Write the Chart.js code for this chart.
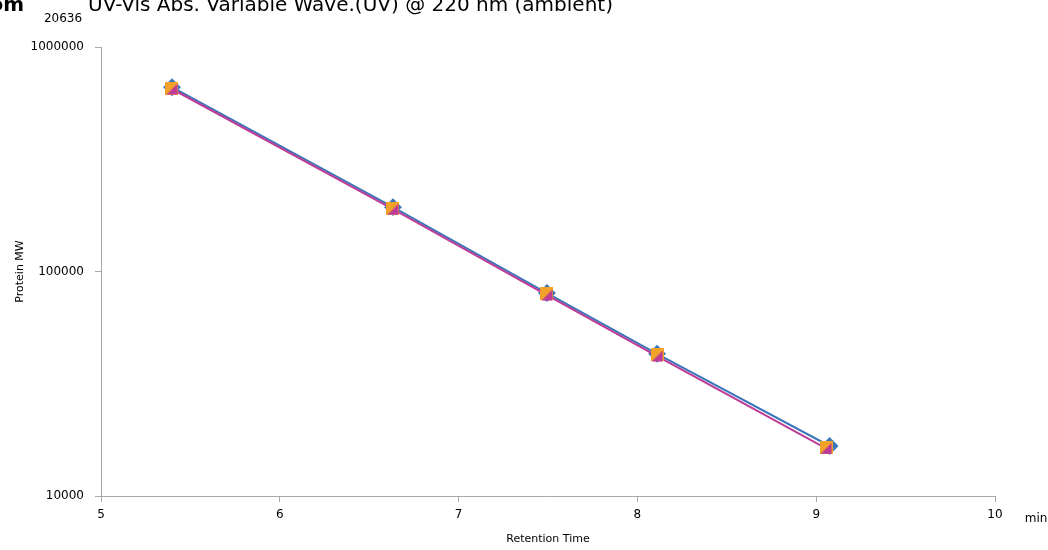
<!DOCTYPE html>
<html>
<head>
<meta charset="utf-8">
<script src="https://cdn.jsdelivr.net/npm/chart.js@4/dist/chart.umd.min.js"></script>
<style>
html,body{margin:0;padding:0;background:#fff;}
#wrap{width:1048px;height:550px;position:relative;}
</style>
</head>
<body>
<div id="wrap"><canvas id="c" width="1048" height="550"></canvas></div>
<script>
// ---- data ----
const retentionTime = [5.397, 6.633, 7.494, 8.110, 9.055];
const retentionTimeFit = [5.397, 6.633, 7.494, 8.110, 9.075];
const mwStandard = [656000, 191800, 79400, 42500, 16500];
const mwCalculated = [650000, 189500, 78500, 42000, 16300];
const mwFit = [662000, 193500, 80200, 43000, 16700];
const yTicks = [10000, 100000, 1000000];
const xTicks = [5, 6, 7, 8, 9, 10];
const titleText = "UV-Vis Abs. Variable Wave.(UV) @ 220 nm (ambient)";
const headText = "Custom";
const annotationText = "20636";
const xUnit = "min";
const xTitle = "Retention Time";
const yTitle = "Protein MW";

const BLUE = 'rgb(58,118,186)';
const ORANGE = 'rgb(242,162,40)';
const MAGENTA = 'rgb(190,60,150)';
const FONT = 'Verdana, "DejaVu Sans"';

function makeSquare(){
  const c = document.createElement('canvas'); c.width = 13; c.height = 13;
  const g = c.getContext('2d'); g.fillStyle = ORANGE; g.fillRect(0,0,13,13); return c;
}
function makeTri(){
  const c = document.createElement('canvas'); c.width = 13; c.height = 13;
  const g = c.getContext('2d'); g.fillStyle = MAGENTA;
  g.beginPath(); g.moveTo(12,1); g.lineTo(12,12); g.lineTo(1,12); g.closePath(); g.fill(); return c;
}
const sq = makeSquare(), tri = makeTri();

const pts = (xs, ys) => xs.map((x,i)=>({x:x, y:ys[i]}));

const overlay = {
  id:'overlay',
  afterDraw(chart){
    const ctx = chart.ctx; ctx.save();
    ctx.fillStyle = '#000';
    ctx.font = 'bold 20px "DejaVu Sans"';
    ctx.textAlign = 'right'; ctx.textBaseline = 'alphabetic';
    ctx.fillText(headText, 24, 11);
    ctx.font = '20px "DejaVu Sans"';
    ctx.textAlign = 'left';
    ctx.fillText(titleText, 88, 11);
    ctx.font = '12px "DejaVu Sans"';
    ctx.textAlign = 'center'; ctx.textBaseline = 'middle';
    ctx.fillText(annotationText, 63, 19);
    ctx.fillText(xUnit, 1036, 519);
    ctx.restore();
  }
};

new Chart(document.getElementById('c'), {
  type:'scatter',
  data:{
    datasets:[
      {label:'Fit', data:pts(retentionTimeFit, mwFit), showLine:true, borderColor:BLUE, backgroundColor:BLUE,
       borderWidth:2, pointStyle:'rectRot', pointRadius:7.5, pointHoverRadius:7.5, order:3},
      {label:'Calculated', data:pts(retentionTime, mwCalculated), showLine:true, borderColor:MAGENTA, backgroundColor:MAGENTA,
       borderWidth:2, pointRadius:0, order:2},
      {label:'Standard', data:pts(retentionTime, mwStandard), showLine:false, pointStyle:sq, order:1},
      {label:'Calculated pts', data:pts(retentionTime, mwCalculated), showLine:false, pointStyle:tri, order:0}
    ]
  },
  options:{
    responsive:false, animation:false, devicePixelRatio:1,
    layout:{padding:{left:0, right:53, top:47, bottom:0}},
    plugins:{legend:{display:false}, tooltip:{enabled:false}},
    scales:{
      x:{type:'linear', min:5, max:10,
        afterBuildTicks(s){ s.ticks = xTicks.map(v=>({value:v})); },
        afterFit(s){ s.height = 54; },
        grid:{drawOnChartArea:false, drawTicks:true, tickLength:6, color:'#a8a8a8'},
        border:{display:true, color:'#a8a8a8', width:1},
        ticks:{color:'#000', font:{family:'DejaVu Sans', size:12}, padding:6, maxRotation:0},
        title:{display:true, text:xTitle, color:'#000', font:{family:'DejaVu Sans', size:11}, padding:{top:4}}
      },
      y:{type:'logarithmic', min:10000, max:1000000,
        afterBuildTicks(s){ s.ticks = yTicks.map(v=>({value:v})); },
        afterFit(s){ s.width = 101; },
        grid:{drawOnChartArea:false, drawTicks:true, tickLength:6, color:'#a8a8a8'},
        border:{display:true, color:'#a8a8a8', width:1},
        ticks:{color:'#000', font:{family:'DejaVu Sans', size:12}, padding:11, callback:(v)=>String(v)},
        title:{display:true, text:yTitle, color:'#000', font:{family:'DejaVu Sans', size:11}, padding:{top:14, bottom:0}}
      }
    }
  },
  plugins:[overlay]
});
</script>
</body>
</html>
